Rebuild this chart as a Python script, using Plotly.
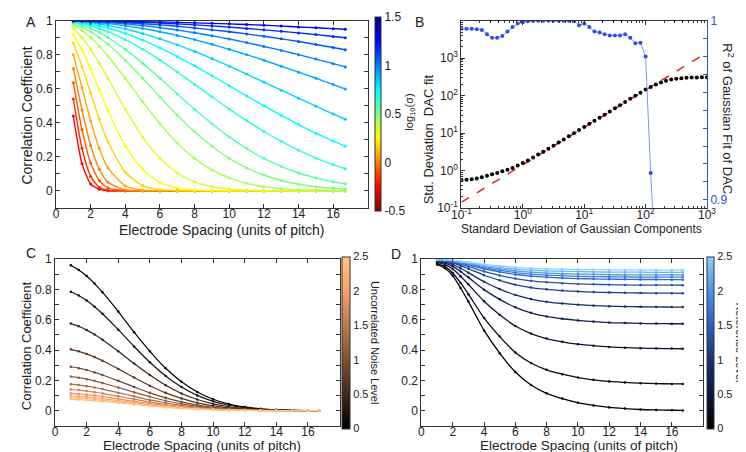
import plotly.graph_objects as go

W, H = 746, 452

# ---------------- DATA ----------------
SPACING = [1, 1.5, 2, 2.5, 3, 4, 5, 6, 7, 8, 9, 10, 11, 12, 13, 14, 15, 16, 16.7]

# Panel A: correlation vs spacing for log10(sigma) levels
A_LOG_SIGMA = [-0.3, -0.2, -0.1, 0.0, 0.1, 0.2, 0.3, 0.4, 0.5, 0.6, 0.7, 0.8, 0.9, 1.0, 1.1, 1.2, 1.3, 1.4, 1.5]
A_CURVES = [
    [0.44, 0.16, 0.04, 0.01, 0, 0, 0, 0, 0, 0, 0, 0, 0, 0, 0, 0, 0, 0, 0],
    [0.54, 0.25, 0.085, 0.02, 0.004, 0, 0, 0, 0, 0, 0, 0, 0, 0, 0, 0, 0, 0, 0],
    [0.635, 0.36, 0.163, 0.059, 0.017, 0.001, 0, 0, 0, 0, 0, 0, 0, 0, 0, 0, 0, 0, 0],
    [0.72, 0.475, 0.267, 0.127, 0.051, 0.005, 0, 0, 0, 0, 0, 0, 0, 0, 0, 0, 0, 0, 0],
    [0.80, 0.607, 0.411, 0.249, 0.135, 0.029, 0.004, 0, 0, 0, 0, 0, 0, 0, 0, 0, 0, 0, 0],
    [0.871, 0.732, 0.575, 0.421, 0.287, 0.109, 0.031, 0.007, 0.001, 0, 0, 0, 0, 0, 0, 0, 0, 0, 0],
    [0.92, 0.829, 0.717, 0.594, 0.472, 0.264, 0.125, 0.05, 0.017, 0.005, 0.001, 0, 0, 0, 0, 0, 0, 0, 0],
    [0.955, 0.902, 0.832, 0.751, 0.662, 0.48, 0.317, 0.191, 0.105, 0.053, 0.024, 0.01, 0.004, 0.001, 0, 0, 0, 0, 0],
    [0.975, 0.944, 0.902, 0.851, 0.793, 0.662, 0.524, 0.395, 0.282, 0.191, 0.123, 0.076, 0.044, 0.024, 0.013, 0.006, 0.003, 0.001, 0.001],
    [0.984, 0.963, 0.936, 0.902, 0.862, 0.768, 0.662, 0.552, 0.445, 0.347, 0.262, 0.191, 0.135, 0.093, 0.061, 0.039, 0.024, 0.015, 0.01],
    [0.989, 0.975, 0.955, 0.931, 0.902, 0.832, 0.751, 0.662, 0.57, 0.48, 0.395, 0.317, 0.249, 0.191, 0.144, 0.105, 0.076, 0.053, 0.041],
    [0.993, 0.984, 0.971, 0.955, 0.936, 0.89, 0.833, 0.769, 0.699, 0.626, 0.553, 0.481, 0.413, 0.349, 0.291, 0.239, 0.193, 0.154, 0.13],
    [0.995, 0.989, 0.981, 0.97, 0.958, 0.926, 0.887, 0.841, 0.79, 0.735, 0.677, 0.618, 0.559, 0.5, 0.444, 0.39, 0.339, 0.292, 0.262],
    [0.997, 0.993, 0.988, 0.981, 0.972, 0.952, 0.925, 0.894, 0.859, 0.82, 0.778, 0.733, 0.687, 0.64, 0.592, 0.545, 0.498, 0.452, 0.421],
    [0.998, 0.996, 0.993, 0.989, 0.984, 0.971, 0.955, 0.936, 0.914, 0.889, 0.862, 0.832, 0.801, 0.768, 0.733, 0.698, 0.662, 0.625, 0.599],
    [0.999, 0.997, 0.995, 0.993, 0.99, 0.982, 0.972, 0.96, 0.946, 0.93, 0.912, 0.893, 0.872, 0.849, 0.826, 0.801, 0.775, 0.748, 0.729],
    [0.999, 0.998, 0.997, 0.996, 0.994, 0.989, 0.983, 0.976, 0.968, 0.958, 0.947, 0.936, 0.923, 0.909, 0.894, 0.878, 0.861, 0.843, 0.83],
    [1.0, 0.999, 0.998, 0.998, 0.997, 0.994, 0.991, 0.987, 0.982, 0.976, 0.97, 0.963, 0.955, 0.947, 0.938, 0.929, 0.919, 0.908, 0.9],
    [1.0, 1.0, 0.999, 0.999, 0.998, 0.997, 0.995, 0.993, 0.991, 0.988, 0.985, 0.982, 0.978, 0.974, 0.969, 0.964, 0.959, 0.954, 0.95],
]

# Panel B
B_SIGMA = [0.1, 0.121, 0.147, 0.178, 0.215, 0.261, 0.316, 0.383, 0.464, 0.562, 0.681, 0.825,
           1, 1.21, 1.47, 1.78, 2.15, 2.61, 3.16, 3.83, 4.64, 5.62, 6.81, 8.25,
           10, 12.1, 14.7, 17.8, 21.5, 26.1, 31.6, 38.3, 46.4, 56.2, 68.1, 82.5,
           100, 121, 147, 178, 215, 261, 316, 383, 464, 562, 681, 825, 1000]
B_DAC_STD = [0.55, 0.56, 0.58, 0.61, 0.66, 0.72, 0.79, 0.86, 0.95, 1.05, 1.17, 1.36,
             1.58, 1.85, 2.2, 2.65, 3.15, 3.8, 4.6, 5.55, 6.75, 8.2, 9.9, 12,
             14.6, 17.6, 21.3, 25.8, 31, 37.8, 46, 55.5, 67.5, 82, 99, 120,
             145, 170, 197, 224, 248, 268, 283, 293, 300, 304, 307, 308, 309]
B_R2_SIGMA = [0.1, 0.121, 0.147, 0.178, 0.215, 0.261, 0.316, 0.383, 0.464, 0.562, 0.681, 0.825,
              1, 1.21, 1.47, 1.78, 2.15, 2.61, 3.16, 3.83, 4.64, 5.62, 6.81, 8.25,
              10, 12.1, 14.7, 17.8, 21.5, 26.1, 31.6, 38.3, 46.4, 56.2, 68.1, 82.5,
              100, 121, 147]
B_R2 = [0.9955, 0.9955, 0.9955, 0.9953, 0.9948, 0.9925, 0.9905, 0.9905, 0.9915, 0.994, 0.9965, 0.9985,
        0.9992, 0.9997, 0.9999, 1.0, 1.0, 1.0, 1.0, 1.0, 1.0, 1.0, 0.9998, 0.9975,
        0.9985, 0.9965, 0.994, 0.9935, 0.9925, 0.9918, 0.9918, 0.9918, 0.9925, 0.9905, 0.9875, 0.9878,
        0.980, 0.915, 0.86]
B_LINE_X = [0.1, 1000]
B_LINE_Y = [0.1414, 1414]
B_XTICKS = [0.1, 1, 10, 100, 1000]
B_XTICKTEXT = ["10<sup>-1</sup>", "10<sup>0</sup>", "10<sup>1</sup>", "10<sup>2</sup>", "10<sup>3</sup>"]
B_YTICKS = [0.1, 1, 10, 100, 1000]
B_YTICKTEXT = ["10<sup>-1</sup>", "10<sup>0</sup>", "10<sup>1</sup>", "10<sup>2</sup>", "10<sup>3</sup>"]

# Panel C: uncorrelated noise levels
C_NOISE = [0, 0.227, 0.455, 0.682, 0.909, 1.136, 1.364, 1.591, 1.818, 2.045, 2.273, 2.5]
C_CURVES = [
    [0.96, 0.929, 0.889, 0.839, 0.782, 0.654, 0.518, 0.392, 0.28, 0.191, 0.124, 0.076, 0.044, 0.025, 0.013, 0.007, 0.003, 0.001, 0.001],
    [0.785, 0.76, 0.727, 0.686, 0.64, 0.535, 0.424, 0.32, 0.229, 0.156, 0.101, 0.062, 0.036, 0.02, 0.01, 0.005, 0.002, 0.001, 0.001],
    [0.575, 0.557, 0.532, 0.503, 0.469, 0.392, 0.311, 0.235, 0.168, 0.114, 0.074, 0.045, 0.026, 0.015, 0.008, 0.004, 0.002, 0.001, 0],
    [0.405, 0.392, 0.375, 0.354, 0.33, 0.276, 0.219, 0.165, 0.118, 0.081, 0.052, 0.032, 0.019, 0.011, 0.005, 0.003, 0.001, 0, 0],
    [0.29, 0.281, 0.269, 0.253, 0.236, 0.197, 0.157, 0.118, 0.085, 0.058, 0.037, 0.023, 0.013, 0.008, 0.004, 0.002, 0.001, 0, 0],
    [0.225, 0.218, 0.208, 0.197, 0.183, 0.153, 0.122, 0.092, 0.066, 0.045, 0.029, 0.018, 0.01, 0.006, 0.003, 0.002, 0.001, 0, 0],
    [0.175, 0.169, 0.162, 0.153, 0.143, 0.119, 0.095, 0.071, 0.051, 0.035, 0.023, 0.014, 0.008, 0.005, 0.002, 0.001, 0.001, 0, 0],
    [0.14, 0.136, 0.13, 0.122, 0.114, 0.095, 0.076, 0.057, 0.041, 0.028, 0.018, 0.011, 0.006, 0.004, 0.002, 0.001, 0, 0, 0],
    [0.115, 0.111, 0.106, 0.101, 0.094, 0.078, 0.062, 0.047, 0.034, 0.023, 0.015, 0.009, 0.005, 0.003, 0.001, 0.001, 0, 0, 0],
    [0.098, 0.095, 0.091, 0.086, 0.08, 0.067, 0.053, 0.04, 0.029, 0.02, 0.013, 0.008, 0.005, 0.003, 0.001, 0.001, 0, 0, 0],
    [0.085, 0.082, 0.079, 0.074, 0.069, 0.058, 0.046, 0.035, 0.025, 0.017, 0.011, 0.007, 0.004, 0.002, 0.001, 0.001, 0, 0, 0],
    [0.075, 0.073, 0.069, 0.066, 0.061, 0.051, 0.041, 0.031, 0.022, 0.015, 0.01, 0.006, 0.003, 0.002, 0.001, 0, 0, 0, 0],
]

# Panel D: reference levels
D_REF = [0, 0.227, 0.455, 0.682, 0.909, 1.136, 1.364, 1.591, 1.818, 2.045, 2.273, 2.5]
D_CURVES = [
    [0.965, 0.94, 0.89, 0.81, 0.72, 0.53, 0.38, 0.255, 0.17, 0.115, 0.08, 0.053, 0.035, 0.022, 0.014, 0.008, 0.005, 0.003, 0.002],
    [0.971, 0.951, 0.909, 0.843, 0.769, 0.612, 0.489, 0.385, 0.315, 0.27, 0.241, 0.219, 0.204, 0.193, 0.187, 0.182, 0.179, 0.177, 0.177],
    [0.979, 0.964, 0.935, 0.888, 0.834, 0.722, 0.633, 0.559, 0.509, 0.476, 0.455, 0.439, 0.429, 0.421, 0.416, 0.413, 0.411, 0.41, 0.409],
    [0.985, 0.974, 0.953, 0.919, 0.88, 0.799, 0.735, 0.682, 0.646, 0.622, 0.607, 0.596, 0.588, 0.582, 0.579, 0.576, 0.575, 0.574, 0.574],
    [0.989, 0.981, 0.965, 0.94, 0.911, 0.851, 0.803, 0.764, 0.737, 0.719, 0.708, 0.7, 0.694, 0.69, 0.687, 0.686, 0.685, 0.684, 0.684],
    [0.992, 0.987, 0.975, 0.957, 0.937, 0.894, 0.861, 0.832, 0.813, 0.801, 0.793, 0.787, 0.783, 0.78, 0.778, 0.777, 0.776, 0.776, 0.775],
    [0.994, 0.99, 0.981, 0.967, 0.952, 0.919, 0.893, 0.872, 0.857, 0.848, 0.842, 0.837, 0.834, 0.832, 0.83, 0.829, 0.829, 0.829, 0.828],
    [0.995, 0.992, 0.985, 0.974, 0.962, 0.937, 0.916, 0.899, 0.888, 0.881, 0.876, 0.872, 0.87, 0.868, 0.867, 0.866, 0.866, 0.865, 0.865],
    [0.996, 0.993, 0.987, 0.977, 0.967, 0.944, 0.926, 0.911, 0.901, 0.895, 0.891, 0.887, 0.885, 0.884, 0.883, 0.882, 0.882, 0.881, 0.881],
    [0.996, 0.994, 0.989, 0.98, 0.971, 0.951, 0.936, 0.923, 0.914, 0.908, 0.904, 0.902, 0.9, 0.898, 0.897, 0.897, 0.897, 0.896, 0.896],
    [0.997, 0.995, 0.99, 0.983, 0.976, 0.959, 0.946, 0.935, 0.928, 0.923, 0.92, 0.918, 0.916, 0.915, 0.914, 0.914, 0.913, 0.913, 0.913],
    [0.997, 0.996, 0.992, 0.986, 0.98, 0.966, 0.955, 0.946, 0.94, 0.936, 0.934, 0.932, 0.931, 0.93, 0.929, 0.929, 0.928, 0.928, 0.928],
]

SPACING_TICKS = [0, 2, 4, 6, 8, 10, 12, 14, 16]
CORR_TICKS = [0, 0.2, 0.4, 0.6, 0.8, 1]
CORR_TICKTEXT = ["0", "0.2", "0.4", "0.6", "0.8", "1"]
A_CB_TICKS = [-0.5, 0, 0.5, 1, 1.5]
A_CB_TICKTEXT = ["-0.5", "0", "0.5", "1", "1.5"]
CD_CB_TICKS = [0, 0.5, 1, 1.5, 2, 2.5]
CD_CB_TICKTEXT = ["0", "0.5", "1", "1.5", "2", "2.5"]

# ---------------- STYLE HELPERS ----------------
FONT = "Liberation Sans, Arial, Helvetica, sans-serif"
TXT = "#222222"


def clip01(v):
    return max(0.0, min(1.0, v))


def jet_r(t):
    t = 1 - t
    r = clip01(1.5 - abs(4 * t - 3))
    g = clip01(1.5 - abs(4 * t - 2))
    b = clip01(1.5 - abs(4 * t - 1))
    return "rgb(%d,%d,%d)" % (r * 255, g * 255, b * 255)


def copper(t):
    return "rgb(%d,%d,%d)" % (min(1, 1.25 * t) * 255, 0.7812 * t * 255, 0.4975 * t * 255)


D_STOPS = [(0, (0, 0, 0)), (0.2, (12, 24, 55)), (0.4, (25, 50, 120)), (0.6, (45, 95, 200)),
           (0.8, (75, 145, 235)), (1.0, (140, 210, 250))]


def dmap(t):
    for (t0, c0), (t1, c1) in zip(D_STOPS[:-1], D_STOPS[1:]):
        if t <= t1:
            f = (t - t0) / (t1 - t0)
            return "rgb(%d,%d,%d)" % tuple(int(c0[i] + f * (c1[i] - c0[i])) for i in range(3))
    return "rgb(%d,%d,%d)" % D_STOPS[-1][1]


def px_x(p):
    return p / W


def px_y(p):
    return 1 - p / H


fig = go.Figure()

# ---------------- PANEL A ----------------
nA = len(A_CURVES)
for i, ys in enumerate(A_CURVES):
    col = jet_r(0.125 + 0.75 * i / (nA - 1))
    fig.add_trace(go.Scatter(x=SPACING, y=ys, mode="lines+markers", xaxis="x", yaxis="y",
                             line=dict(color=col, width=1.4, shape="spline", smoothing=0.6),
                             marker=dict(color=col, size=3), showlegend=False, hoverinfo="skip"))
fig.add_trace(go.Scatter(x=[None], y=[None], mode="markers", xaxis="x", yaxis="y", showlegend=False,
                         marker=dict(color=[0], cmin=-0.5, cmax=1.5, showscale=True,
                                     colorscale=[[k / 16, jet_r(k / 16)] for k in range(17)],
                                     colorbar=dict(x=px_x(366), xanchor="left", xpad=0, y=px_y(102), yanchor="middle",
                                                   ypad=0, len=194, lenmode="pixels", thickness=6, thicknessmode="pixels",
                                                   outlinewidth=1, outlinecolor="#333", tickvals=A_CB_TICKS,
                                                   ticktext=A_CB_TICKTEXT, ticks="",
                                                   tickfont=dict(size=12, color=TXT, family=FONT))),
                         hoverinfo="skip"))

# ---------------- PANEL B ----------------
fig.add_trace(go.Scatter(x=B_LINE_X, y=B_LINE_Y, mode="lines", xaxis="x2", yaxis="y2",
                         line=dict(color="rgb(225,35,35)", width=1.5, dash="dash"), showlegend=False, hoverinfo="skip"))
fig.add_trace(go.Scatter(x=B_SIGMA, y=B_DAC_STD, mode="markers", xaxis="x2", yaxis="y2",
                         marker=dict(color="black", size=4), showlegend=False, hoverinfo="skip"))
fig.add_trace(go.Scatter(x=B_R2_SIGMA, y=B_R2, mode="lines+markers", xaxis="x2", yaxis="y5",
                         line=dict(color="rgb(120,150,240)", width=1),
                         marker=dict(color="rgb(45,80,230)", size=4), showlegend=False, hoverinfo="skip"))

# ---------------- PANEL C ----------------
for i, ys in enumerate(C_CURVES):
    col = copper(C_NOISE[i] / 2.5)
    fig.add_trace(go.Scatter(x=SPACING, y=ys, mode="lines+markers", xaxis="x3", yaxis="y3",
                             line=dict(color=col, width=1.2, shape="spline", smoothing=0.6),
                             marker=dict(color=col, size=2.5), showlegend=False, hoverinfo="skip"))
fig.add_trace(go.Scatter(x=[None], y=[None], mode="markers", xaxis="x3", yaxis="y3", showlegend=False,
                         marker=dict(color=[0], cmin=0, cmax=2.5, showscale=True,
                                     colorscale=[[k / 16, copper(k / 16)] for k in range(17)],
                                     colorbar=dict(x=px_x(332), xanchor="left", xpad=0, y=px_y(338), yanchor="middle",
                                                   ypad=0, len=172, lenmode="pixels", thickness=8, thicknessmode="pixels",
                                                   outlinewidth=1, outlinecolor="#333", tickvals=CD_CB_TICKS,
                                                   ticktext=CD_CB_TICKTEXT, ticks="",
                                                   tickfont=dict(size=11, color=TXT, family=FONT))),
                         hoverinfo="skip"))

# ---------------- PANEL D ----------------
for i, ys in enumerate(D_CURVES):
    col = dmap(D_REF[i] / 2.5)
    fig.add_trace(go.Scatter(x=SPACING, y=ys, mode="lines+markers", xaxis="x4", yaxis="y4",
                             line=dict(color=col, width=1.3, shape="spline", smoothing=0.6),
                             marker=dict(color=col, size=2.5), showlegend=False, hoverinfo="skip"))
fig.add_trace(go.Scatter(x=[None], y=[None], mode="markers", xaxis="x4", yaxis="y4", showlegend=False,
                         marker=dict(color=[0], cmin=0, cmax=2.5, showscale=True,
                                     colorscale=[[k / 20, dmap(k / 20)] for k in range(21)],
                                     colorbar=dict(x=px_x(707), xanchor="left", xpad=0, y=px_y(338), yanchor="middle",
                                                   ypad=0, len=172, lenmode="pixels", thickness=7, thicknessmode="pixels",
                                                   outlinewidth=1, outlinecolor="#333", tickvals=CD_CB_TICKS,
                                                   ticktext=CD_CB_TICKTEXT, ticks="",
                                                   tickfont=dict(size=11, color=TXT, family=FONT))),
                         hoverinfo="skip"))

# ---------------- AXES ----------------
tickfont = dict(size=12, color=TXT, family=FONT)


def lin_x(dom, anchor):
    return dict(domain=dom, anchor=anchor, range=[0, 18], tickvals=SPACING_TICKS, ticks="inside", ticklen=4,
                tickcolor="#333", showline=True, linecolor="#333", linewidth=1, mirror="ticks",
                showgrid=False, zeroline=False, tickfont=tickfont, ticklabelstandoff=-5)


def lin_y(dom, anchor):
    return dict(domain=dom, anchor=anchor, range=[-0.1, 1], tickvals=CORR_TICKS, ticktext=CORR_TICKTEXT,
                ticks="inside", ticklen=4, tickcolor="#333", showline=True, linecolor="#333", linewidth=1,
                mirror="ticks", showgrid=False, zeroline=False, tickfont=tickfont,
                minor=dict(ticks="inside", ticklen=4, tickcolor="#333", tickvals=[-0.1, 0.1, 0.3, 0.5, 0.7, 0.9]))


yA = [px_y(199), px_y(6)]
yCD = [px_y(424), px_y(252)]

minor_log_x = [m * 10 ** e for e in range(-1, 3) for m in range(2, 10)]
minor_log_y = [m * 10 ** e for e in range(-1, 4) for m in range(2, 10)]

fig.update_layout(
    width=W, height=H, margin=dict(l=0, r=0, t=0, b=0),
    paper_bgcolor="white", plot_bgcolor="white", font=dict(family=FONT, color=TXT),
    xaxis=lin_x([px_x(39), px_x(359)], "y"),
    yaxis=lin_y(yA, "x"),
    xaxis2=dict(domain=[px_x(455), px_x(707)], anchor="y2", type="log", range=[-1, 3],
                tickvals=B_XTICKS, ticktext=B_XTICKTEXT, ticks="inside", ticklen=4, tickcolor="#333",
                showline=True, linecolor="#333", mirror="ticks", showgrid=False, zeroline=False, tickfont=tickfont,
                ticklabelstandoff=-4,
                minor=dict(ticks="inside", ticklen=2, tickcolor="#333", tickvals=minor_log_x)),
    yaxis2=dict(domain=yA, anchor="x2", type="log", range=[-1, 4], tickvals=B_YTICKS, ticktext=B_YTICKTEXT,
                ticks="inside", ticklen=4, tickcolor="#333", showline=True, linecolor="#333", mirror=False,
                showgrid=False, zeroline=False, tickfont=tickfont,
                minor=dict(ticks="inside", ticklen=2, tickcolor="#333", tickvals=minor_log_y)),
    yaxis5=dict(domain=yA, anchor="x2", overlaying="y2", side="right", range=[0.8955, 1.0], tickvals=[0.9, 1],
                ticktext=["0.9", "1"], ticks="inside", ticklen=4, tickcolor="rgb(50,80,230)", showline=True,
                linecolor="rgb(50,80,230)", showgrid=False, zeroline=False,
                tickfont=dict(size=12, color="rgb(50,80,230)", family=FONT),
                minor=dict(ticks="inside", ticklen=4, tickcolor="rgb(50,80,230)",
                           tickvals=[0.91, 0.92, 0.93, 0.94, 0.95, 0.96, 0.97, 0.98, 0.99])),
    xaxis3=lin_x([px_x(38), px_x(330)], "y3"),
    yaxis3=lin_y(yCD, "x3"),
    xaxis4=lin_x([px_x(414), px_x(703)], "y4"),
    yaxis4=lin_y(yCD, "x4"),
)

# ---------------- TEXT ----------------
ann = []


def add_text(txt, x, y, size=14, angle=0, color=TXT):
    ann.append(dict(text=txt, x=px_x(x), y=px_y(y), xref="paper", yref="paper", showarrow=False,
                    textangle=angle, xanchor="center", yanchor="middle",
                    font=dict(size=size, color=color, family=FONT)))


add_text("A", 13, 7, 14)
add_text("B", 412, 7, 14)
add_text("C", 13, 246, 14)
add_text("D", 388, 247, 14)

add_text("Correlation Coefficient", 9, 104, 14, -90)
add_text("Electrode Spacing (units of pitch)", 209, 222, 14)
add_text("log<sub>10</sub>(σ)", 402, 100, 11, -90)

add_text("Std. Deviation  DAC fit", 421, 128, 13, -90)
add_text("Standard Deviation of Gaussian Components", 578, 221, 12)
add_text("R<sup>2</sup> of Gaussian Fit of DAC", 729, 107, 13, 90)

add_text("Correlation Coefficient", 9, 341, 13, -90)
add_text("Electrode Spacing (units of pitch)", 189, 444, 13.5)
add_text("Uncorrelated Noise Level", 367, 338, 11, 90)

add_text("Electrode Spacing (units of pitch)", 576, 444, 13.5)
add_text("Reference Level", 741, 338, 11, 90)

fig.update_layout(annotations=ann)

fig.write_html("out.html")
